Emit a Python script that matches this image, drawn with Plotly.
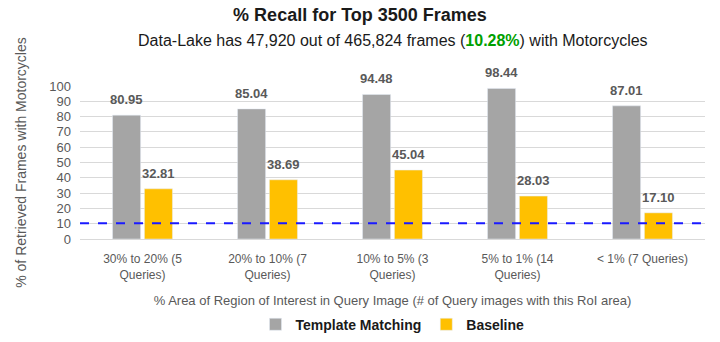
import plotly.graph_objects as go

# カテゴリと値
categories = ["30% to 20% (5<br>Queries)", "20% to 10% (7<br>Queries)",
              "10% to 5% (3<br>Queries)", "5% to 1% (14<br>Queries)",
              "< 1% (7 Queries)"]
template_matching = [80.95, 85.04, 94.48, 98.44, 87.01]
baseline = [32.81, 38.69, 45.04, 28.03, 17.10]
lake_ratio = 10.28

font_family = "Liberation Sans, Arial, sans-serif"
label_color = '#595959'

fig = go.Figure()
fig.add_trace(go.Bar(name='<b>Template Matching</b>', x=categories, y=template_matching,
                     marker_color='#a5a5a5'))
fig.add_trace(go.Bar(name='<b>Baseline</b>', x=categories, y=baseline,
                     marker_color='#ffc000'))

# 値ラベル（棒の少し上）
for values, shift in [(template_matching, -16), (baseline, 16)]:
    for cat, val in zip(categories, values):
        fig.add_annotation(x=cat, y=val, text=f"<b>{val:.2f}</b>", showarrow=False,
                           xshift=shift, yshift=6, yanchor='bottom',
                           font=dict(size=13, color=label_color))

# データレイクの割合（破線）
fig.add_hline(y=lake_ratio, line_color='#1a1aff', line_dash='dash', line_width=2)

fig.update_layout(
    width=720, height=342,
    margin=dict(l=80, r=15, t=86, b=103, autoexpand=False),
    paper_bgcolor='white', plot_bgcolor='white',
    font=dict(family=font_family, color=label_color, size=12),
    barmode='group', bargap=0.49, bargroupgap=0.12,
    title=dict(text="<b>% Recall for Top 3500 Frames</b>", x=0.5, xanchor='center',
               y=0.957, yanchor='middle',
               font=dict(size=18, color='#1a1a1a')),
    showlegend=True,
    legend=dict(orientation='h', x=0.5, xanchor='center', y=-0.56, yanchor='middle',
                font=dict(size=14, color='#1a1a1a'),
                itemwidth=30, traceorder='normal'),
)

fig.add_annotation(
    text="Data-Lake has 47,920 out of 465,824 frames (<b><span style='color:#00a000'>10.28%</span></b>) with Motorcycles",
    xref='paper', yref='paper', x=0.5, y=1.0, yshift=46, showarrow=False,
    xanchor='center', yanchor='middle',
    font=dict(size=16, color='#1a1a1a'))

fig.update_yaxes(range=[0, 100], dtick=10, showgrid=True, gridcolor='#d9d9d9',
                 zeroline=False, showline=False, ticks='', ticklabelstandoff=8,
                 tickfont=dict(size=13, color=label_color),
                 title=dict(text="% of Retrieved Frames with Motorcycles",
                            font=dict(size=14, color=label_color), standoff=19))
fig.update_xaxes(showline=True, linecolor='#d9d9d9', ticks='', ticklabelstandoff=9,
                 tickfont=dict(size=12, color=label_color),
                 title=dict(text="% Area of Region of Interest in Query Image (# of Query images with this RoI area)",
                            font=dict(size=13, color=label_color), standoff=14))

fig.write_html("out.html", config={'displayModeBar': False},
               post_script="document.body.style.margin='0';")
